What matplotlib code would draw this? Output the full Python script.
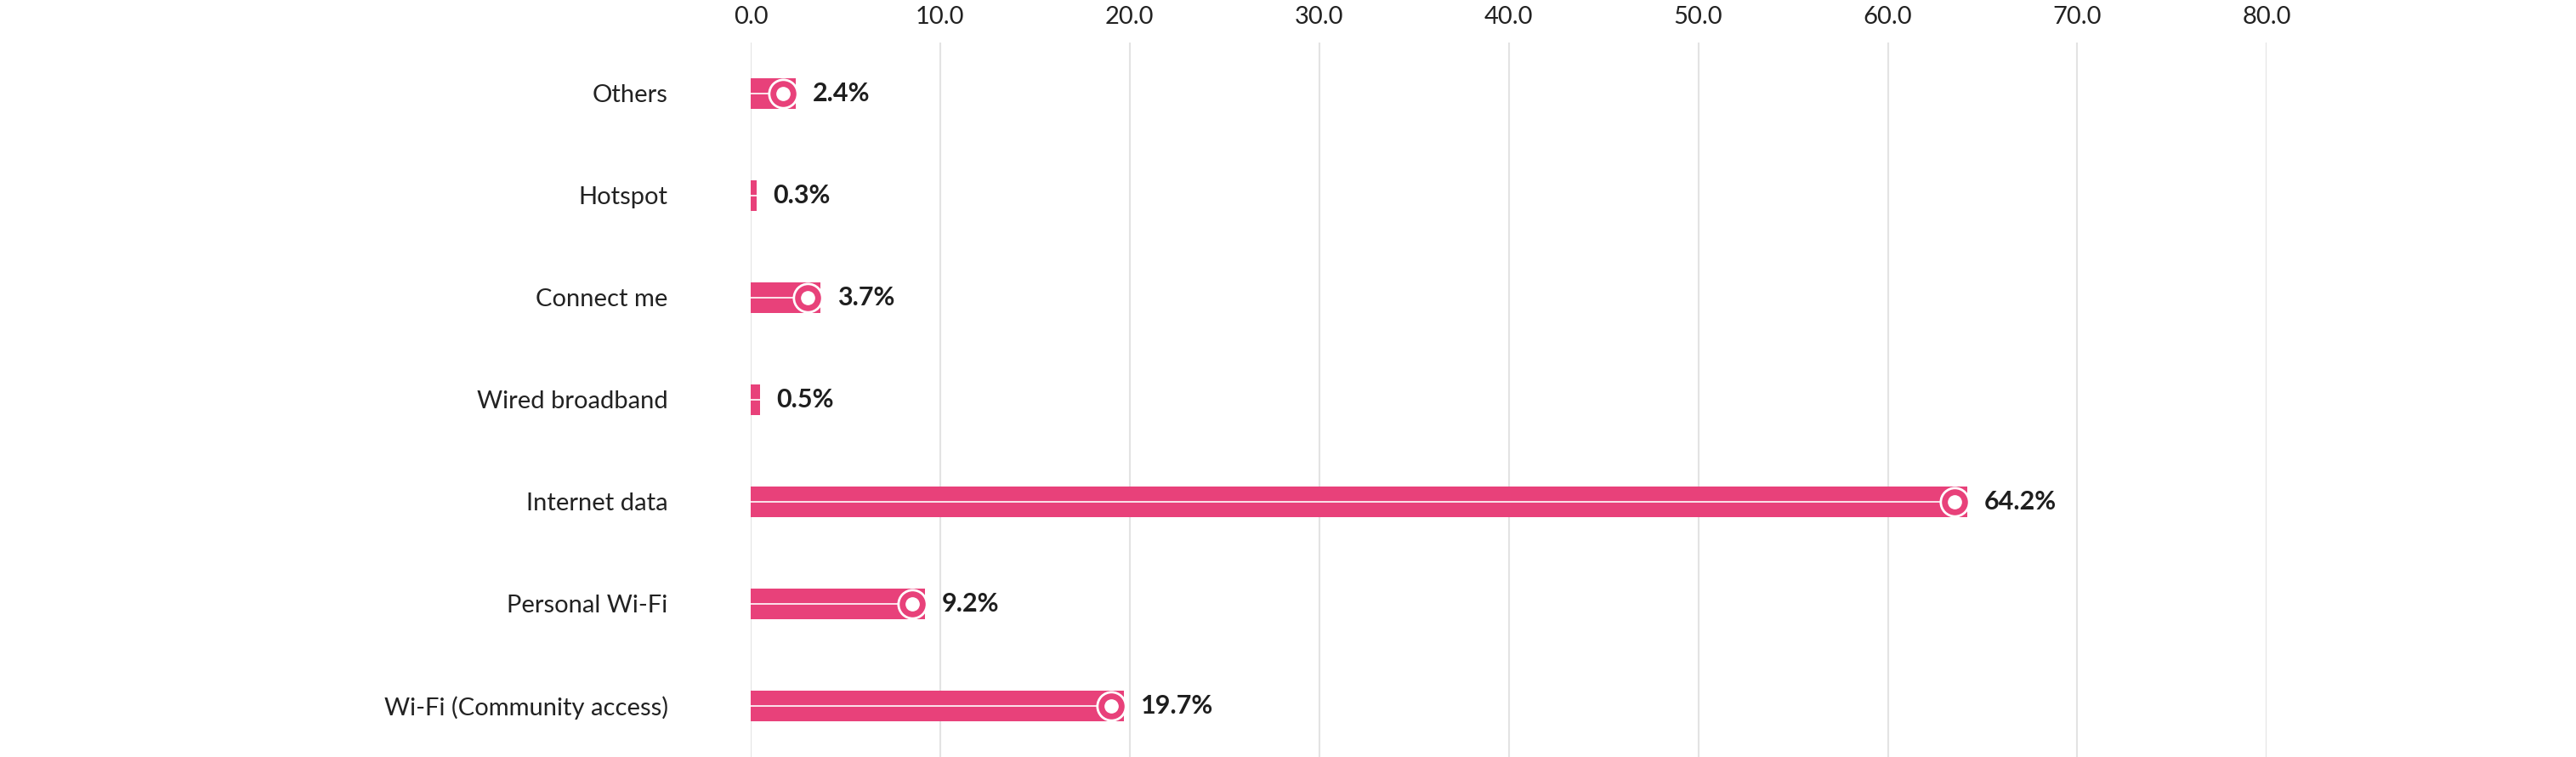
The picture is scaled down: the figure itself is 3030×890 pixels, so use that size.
import matplotlib
matplotlib.use("Agg")
import matplotlib.pyplot as plt
from matplotlib.transforms import offset_copy

categories = ["Others", "Hotspot", "Connect me", "Wired broadband", "Internet data", "Personal Wi-Fi", "Wi-Fi (Community access)"]
values = [2.4, 0.3, 3.7, 0.5, 64.2, 9.2, 19.7]
ticks = [0, 10, 20, 30, 40, 50, 60, 70, 80]

pink = "#E8417A"
plt.rcParams['font.family'] = ['Lato', 'DejaVu Sans']
fig = plt.figure(figsize=(30.3, 8.9), dpi=100)
ax = fig.add_axes([0.2914, 0.0, 0.880 - 0.2914, 0.944])
ys = list(range(len(categories)))
ax.barh(ys, values, height=0.3, color=pink, zorder=3)
for y, v in zip(ys, values):
    ax.plot([0, v], [y, y], color="white", lw=1.2, zorder=4)
    if v > 1:
        tr = offset_copy(ax.transData, fig=fig, x=-11, y=0, units='points')
        ax.plot([v], [y], 'o', ms=24, mfc=pink, mec="white", mew=2, transform=tr, zorder=5)
        ax.plot([v], [y], 'o', ms=11, mfc="white", mec="white", transform=tr, zorder=6)
    tt = offset_copy(ax.transData, fig=fig, x=14, y=0, units='points')
    ax.text(v, y, f"{v:.1f}%", transform=tt, va="center", ha="left",
            fontsize=22, fontweight="bold", color="#1e1e1e")
ax.set_ylim(len(categories) - 0.5, -0.5)
ax.set_xlim(0, 80)
ax.set_xticks(ticks)
ax.set_xticklabels([f"{t:.1f}" for t in ticks], fontsize=21, color="#222")
ax.xaxis.tick_top()
ax.set_yticks(ys)
ax.set_yticklabels(categories, fontsize=21, color="#222")
ax.tick_params(length=0, pad=12)
ax.tick_params(axis='y', pad=70)
ax.grid(axis='x', color="#e3e3e3", lw=1.5, zorder=0)
for s in ax.spines.values():
    s.set_visible(False)
ax.set_axisbelow(True)
fig.savefig("out.png", dpi=100)
